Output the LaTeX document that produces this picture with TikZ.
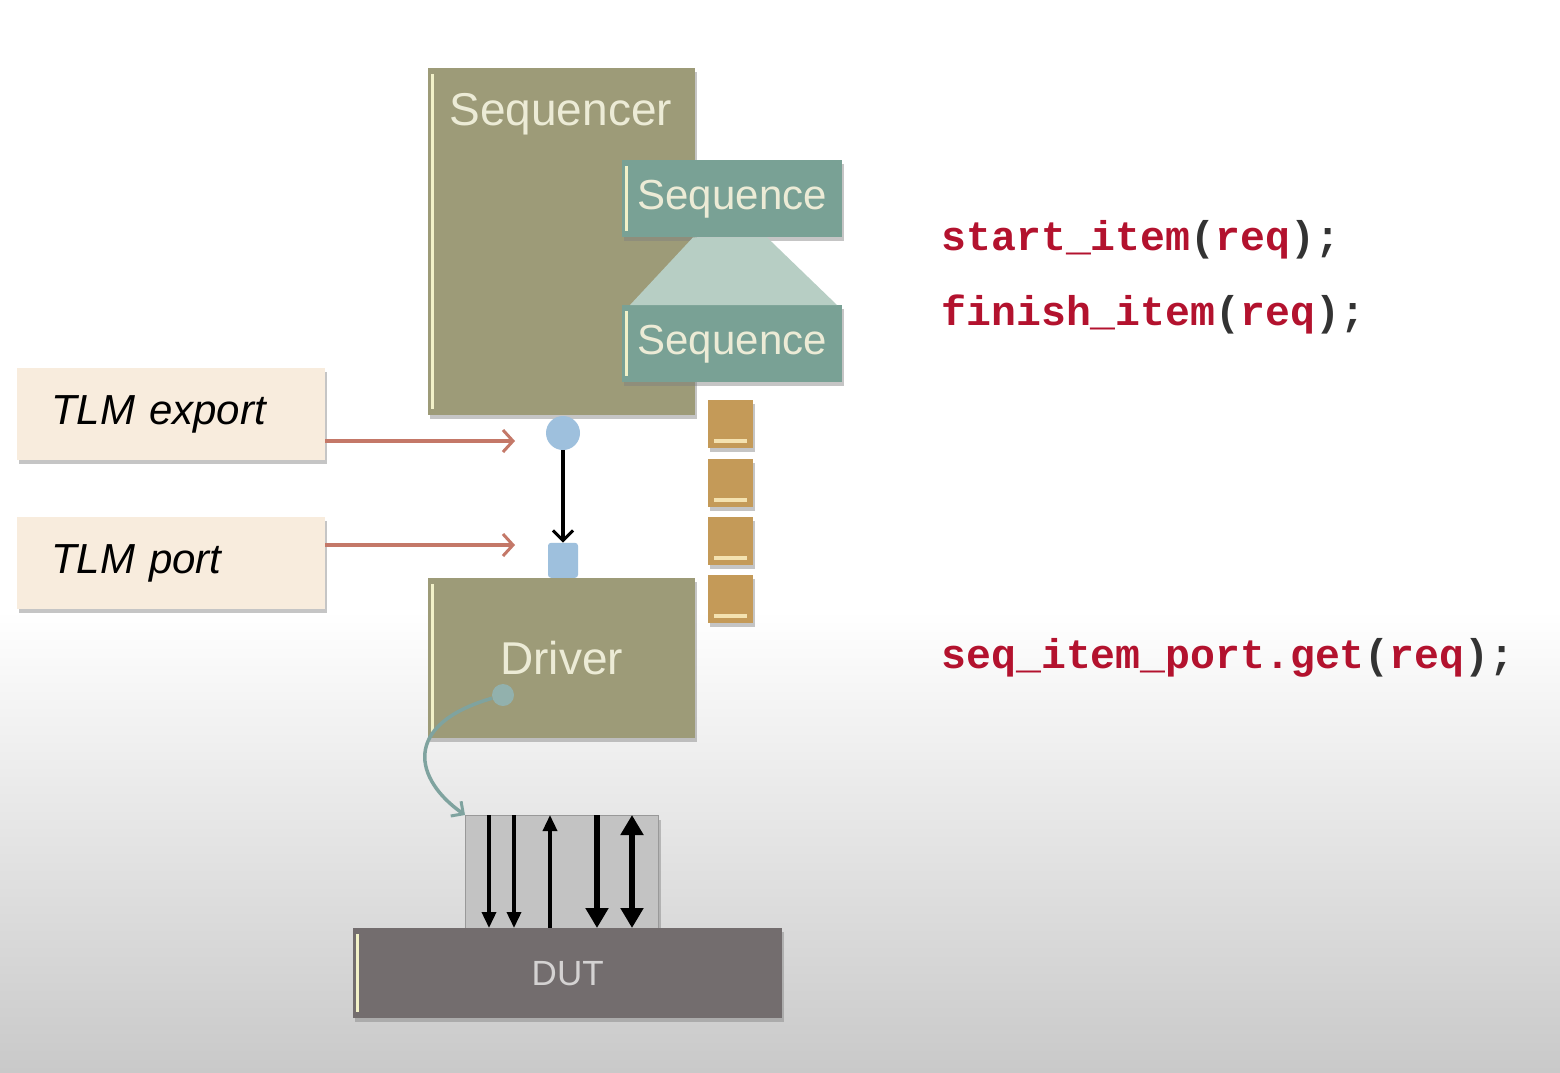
\documentclass[tikz,border=0pt]{standalone}
\usepackage{fontspec}
\setmainfont{Liberation Sans}
\newfontfamily\codefont{Liberation Mono}
\usetikzlibrary{arrows.meta,shadows}

\definecolor{seqrolive}{HTML}{9D9B78}
\definecolor{seqteal}{HTML}{79A195}
\definecolor{trapteal}{HTML}{B7CEC4}
\definecolor{boxtext}{HTML}{ECEBD6}
\definecolor{hiliteyellow}{HTML}{F2F1C8}
\definecolor{slotgold}{HTML}{C49A58}
\definecolor{slotlight}{HTML}{F4E2B0}
\definecolor{portblue}{HTML}{9EC0DD}
\definecolor{tlmbeige}{HTML}{F8ECDD}
\definecolor{tlmred}{HTML}{C47868}
\definecolor{ifcgrey}{HTML}{C3C3C3}
\definecolor{dutgrey}{HTML}{736D6E}
\definecolor{duttext}{HTML}{D4D2D2}
\definecolor{wireteal}{HTML}{7FA39F}
\definecolor{codered}{HTML}{B3122E}
\definecolor{bggrey}{HTML}{C9C9C9}

\begin{document}
\begin{tikzpicture}[x=1pt, y=-1pt,
        hilite/.style={path picture={
            \draw[line width=3pt, draw=hiliteyellow]
                ([xshift=4pt,yshift=-6pt]path picture bounding box.north west) --
                ([xshift=4pt,yshift=6pt]path picture bounding box.south west);}},
        unit/.style={rectangle, anchor=north west, inner sep=0pt,
            drop shadow={shadow xshift=2pt, shadow yshift=-4pt, opacity=0.45}},
        seqrbox/.style={unit, fill=seqrolive, hilite, minimum width=267pt},
        seqbox/.style={unit, fill=seqteal, hilite, minimum width=220pt, minimum height=77pt,
            text=boxtext, font=\fontsize{42}{46}\selectfont},
        tlmbox/.style={unit, fill=tlmbeige, minimum height=92pt, text width=240pt,
            inner xsep=34pt, align=left, font=\itshape\fontsize{42}{46}\selectfont},
        slot/.style={unit, fill=slotgold, minimum width=45pt, minimum height=48pt,
            path picture={\draw[line width=3.5pt, draw=slotlight]
                ([xshift=6pt,yshift=7pt]path picture bounding box.south west) --
                ([xshift=-6pt,yshift=7pt]path picture bounding box.south east);}},
        codeline/.style={anchor=base west, text=black!80, font=\codefont\bfseries\fontsize{41.5}{46}\selectfont},
        tlmarrow/.style={draw=tlmred, line width=4pt,
            -{Straight Barb[length=10pt, width=22pt, line width=3pt]}},
        sigdown/.style={line width=3.5pt, -{Triangle[length=16pt, width=14pt]}},
        sigup/.style={line width=3.5pt, {Triangle[length=16pt, width=14pt]}-},
        sigfat/.style={line width=5.5pt, -{Triangle[length=20pt, width=22pt]}},
        sigboth/.style={line width=5.5pt, {Triangle[length=20pt, width=22pt]}-{Triangle[length=20pt, width=22pt]}}]

    % background
    \useasboundingbox (0,0) rectangle (1560,1072);
    \fill[white] (0,0) rectangle (1560,1072);
    \shade[top color=white, bottom color=bggrey] (0,610) rectangle (1560,1072);

    % sequencer with its sequences
    \node[seqrbox, minimum height=347pt] (seqr) at (428,68) {};
    \node[anchor=base west, text=boxtext, font=\fontsize{46}{50}\selectfont] (seqrlbl)
        at ([xshift=18pt,yshift=-57pt]seqr.north west) {Sequencer};
    \node[seqbox] (seqa) at (622,160) {Sequence};
    \node[seqbox] (seqb) at (622,305) {Sequence};
    \fill[trapteal] ([xshift=71pt]seqa.south west) -- ([xshift=145pt]seqa.south west)
        -- ([xshift=215pt]seqb.north west) -- ([xshift=8pt]seqb.north west) -- cycle;

    % queue of items
    \foreach \yy [count=\i] in {400,459,517,575}
        \node[slot] (slot\i) at (708,\yy) {};

    % driver, export and port
    \node[seqrbox, minimum height=160pt, text=boxtext, font=\fontsize{46}{50}\selectfont] (drv) at (428,578) {Driver};
    \node[circle, fill=portblue, minimum size=34pt, inner sep=0pt] (exp) at (563,433) {};
    \node[rectangle, rounded corners=3pt, fill=portblue, minimum width=30pt, minimum height=35pt,
        inner sep=0pt, anchor=south] (port) at (563,578) {};
    \draw[line width=3.5pt, -{Straight Barb[length=10pt, width=20pt, line width=3pt]}] (exp) -- (port);

    % labels on the left
    \node[tlmbox] (tlmexp) at (17,368) {TLM export};
    \node[tlmbox] (tlmport) at (17,517) {TLM port};
    \coordinate (exptip) at (515,441);
    \coordinate (porttip) at (515,545);
    \draw[tlmarrow] (tlmexp.east |- exptip) -- (exptip);
    \draw[tlmarrow] (tlmport.east |- porttip) -- (porttip);

    % pins and DUT
    \node[unit, fill=ifcgrey, draw=black!40, line width=1pt, minimum width=193pt, minimum height=113pt] (ifc) at (465,815) {};
    \node[unit, fill=dutgrey, hilite, minimum width=429pt, minimum height=90pt,
        text=duttext, font=\fontsize{35}{40}\selectfont] (dut) at (353,928) {DUT};
    \foreach \xx/\kind in {489/sigdown, 514/sigdown, 550/sigup, 597/sigfat, 632/sigboth}
        \draw[\kind] (\xx,0 |- ifc.north) -- (\xx,0 |- dut.north);

    \node[circle, fill=wireteal!85, minimum size=22pt, inner sep=0pt] (drvout) at (503,695) {};
    \draw[draw=wireteal, line width=3.5pt, -{Straight Barb[length=9pt, width=18pt, line width=3pt]}]
        (drvout) .. controls (400,725) and (415,780) .. (ifc.north west);

    % code
    \node[codeline] (startitem) at (938,250)
        {\textcolor{codered}{start\_item}(\textcolor{codered}{req});};
    \node[codeline] (finishitem) at (938,325)
        {\textcolor{codered}{finish\_item}(\textcolor{codered}{req});};
    \node[codeline] (getitem) at (938,668)
        {\textcolor{codered}{seq\_item\_port.get}(\textcolor{codered}{req});};
\end{tikzpicture}
\end{document}
